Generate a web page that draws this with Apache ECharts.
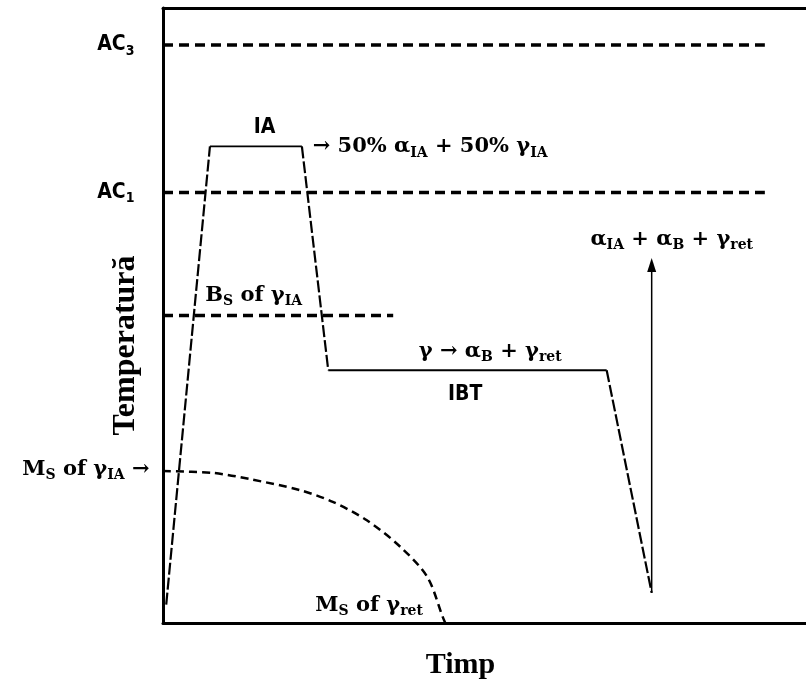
<!DOCTYPE html>
<html>
<head>
<meta charset="utf-8">
<script src="https://cdn.jsdelivr.net/npm/echarts@6/dist/echarts.min.js"></script>
<style>
    html, body { margin: 0; padding: 0; background: #fff; }
    #chart { width: 806px; height: 680px; }
</style>
</head>
<body>
<div id="chart"></div>
<script>
// heat treatment schedule (time / temperature, arbitrary units 0-100)
const cycleTime = [0.5, 7.3, 21.6, 25.7, 69.0, 76.0];
const cycleTemp = [3.0, 77.5, 77.5, 41.1, 41.1, 4.9];

// critical temperatures
const ac3Temp = 94;
const ac1Temp = 70;
const bsTemp = 50;
const refLineEnd = 93.6;
const bsLineEnd = 35.8;

// Ms of gamma curve
const msTime = [0, 7.8, 13.5, 21.3, 26.4, 31.7, 36.9, 41.1, 43.5, 43.9];
const msTemp = [24.7, 24.4, 23.4, 21.6, 19.7, 16.7, 12.4, 7.5, 1.0, 0];

// final product arrow
const arrowTime = 76.0;
const arrowTemp = [4.9, 58.2];

// annotations
const annoText = [
    '{k|AC}{ks|3}',
    '{k|AC}{ks|1}',
    '{n|M}{s|S}{n| of γ}{s|IA}{n| →}',
    '{k|IA}',
    '{n|→ 50% α}{s|IA}{n| + 50% γ}{s|IA}',
    '{n|α}{s|IA}{n| + α}{s|B}{n| + γ}{s|ret}',
    '{n|B}{s|S}{n| of γ}{s|IA}',
    '{n|γ → α}{s|B}{n| + γ}{s|ret}',
    '{k|IBT}',
    '{n|M}{s|S}{n| of γ}{s|ret}'
];
const annoTime = [0, 0, 0, 15.8, 23.2, 66.4, 6.5, 39.7, 47.0, 23.6];
const annoTemp = [94, 70, 25, 80.6, 77.4, 62.3, 53.3, 44.1, 37.1, 2.9];
const annoSide = ['left', 'left', 'left', 'inside', 'right', 'right', 'right', 'right', 'inside', 'right'];

const serif = '"DejaVu Serif", "Liberation Serif", serif';
const timesBold = '"Liberation Serif", "Times New Roman", serif';
const narrow = '"Liberation Sans Narrow", "DejaVu Sans Condensed", sans-serif';
const ink = '#000';

const richStyles = {
    n: { fontFamily: serif, fontSize: 21, fontWeight: 'bold', color: ink, lineHeight: 26 },
    s: { fontFamily: serif, fontSize: 14, fontWeight: 'bold', color: ink, lineHeight: 14, verticalAlign: 'bottom' },
    k: { fontFamily: narrow, fontSize: 21, fontWeight: 'bold', color: ink, lineHeight: 26 },
    ks: { fontFamily: narrow, fontSize: 14, fontWeight: 'bold', color: ink, lineHeight: 14, verticalAlign: 'bottom' }
};

const segment = (from, to, lineStyle) => ({
    type: 'line',
    data: [[cycleTime[from], cycleTemp[from]], [cycleTime[to], cycleTemp[to]]],
    showSymbol: false,
    lineStyle
});

const hLine = (y, xEnd) => ({
    type: 'line',
    data: [[0, y], [xEnd, y]],
    showSymbol: false,
    lineStyle: { color: ink, width: 3.5, type: [10, 6] }
});

const rampStyle = { color: ink, width: 2.2, type: [12, 3] };
const holdStyle = { color: ink, width: 1.8 };

const chart = echarts.init(document.getElementById('chart'));

chart.setOption({
    animation: false,
    backgroundColor: '#fff',
    grid: { left: 163, right: 0, top: 8, bottom: 57, outerBoundsMode: 'none', containLabel: false },
    xAxis: [
        {
            type: 'value', min: 0, max: 100,
            name: 'Timp', nameLocation: 'middle', nameGap: 27,
            nameTextStyle: { fontFamily: timesBold, fontSize: 30, fontWeight: 'bold', color: ink, padding: [0, 48, 0, 0] },
            axisLine: { lineStyle: { color: ink, width: 3 } },
            axisTick: { show: false }, axisLabel: { show: false }, splitLine: { show: false }
        },
        {
            type: 'value', min: 0, max: 100, position: 'top',
            axisLine: { lineStyle: { color: ink, width: 3 } },
            axisTick: { show: false }, axisLabel: { show: false }, splitLine: { show: false }
        }
    ],
    yAxis: {
        type: 'value', min: 0, max: 100,
        name: 'Temperatură', nameLocation: 'middle', nameGap: 21,
        nameTextStyle: { fontFamily: timesBold, fontSize: 32, fontWeight: 'bold', color: ink, padding: [0, 60, 0, 0] },
        axisLine: { lineStyle: { color: ink, width: 3 } },
        axisTick: { show: false }, axisLabel: { show: false }, splitLine: { show: false }
    },
    series: [
        hLine(ac3Temp, refLineEnd),
        hLine(ac1Temp, refLineEnd),
        hLine(bsTemp, bsLineEnd),
        segment(0, 1, rampStyle),
        segment(1, 2, holdStyle),
        segment(2, 3, rampStyle),
        segment(3, 4, holdStyle),
        segment(4, 5, rampStyle),
        {
            type: 'line',
            data: msTime.map((t, i) => [t, msTemp[i]]),
            smooth: 0.3,
            showSymbol: false,
            lineStyle: { color: ink, width: 2.5, type: [8, 5] }
        },
        {
            type: 'line',
            data: [
                { value: [arrowTime, arrowTemp[0]], symbol: 'none' },
                { value: [arrowTime, arrowTemp[1]], symbol: 'triangle', symbolSize: [9, 14] }
            ],
            showAllSymbol: true,
            itemStyle: { color: ink },
            lineStyle: { color: ink, width: 1.5 }
        },
        {
            type: 'scatter',
            symbolSize: 1,
            itemStyle: { color: 'transparent', opacity: 1 },
            silent: true,
            data: annoText.map((txt, i) => ({
                value: [annoTime[i], annoTemp[i]],
                label: {
                    show: true,
                    color: ink,
                    opacity: 1,
                    position: annoSide[i],
                    distance: annoSide[i] === 'left' ? (i === 2 ? 13 : 28) : 0,
                    formatter: txt,
                    rich: richStyles
                }
            }))
        }
    ]
});
</script>
</body>
</html>
